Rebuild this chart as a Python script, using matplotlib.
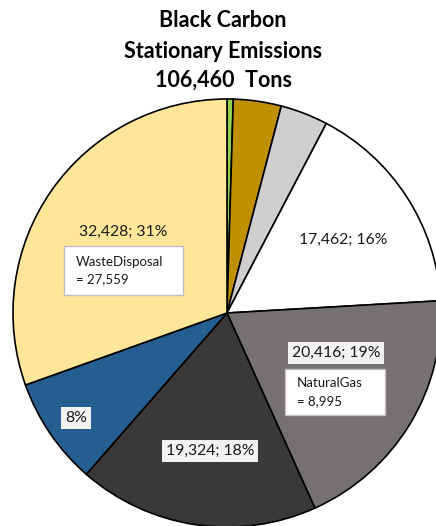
import matplotlib.pyplot as plt

# slices, clockwise from 12 o'clock (tons)
sources = ["Other", "Coal", "Oil", "Wood", "Natural Gas", "Industrial",
           "Residential", "Waste Disposal"]
tons = [500, 3850, 3830, 17462, 20416, 19324, 8650, 32428]
colors = ["#92D050", "#BF9000", "#D0CECE", "#FFFFFF", "#767171",
          "#3A3838", "#255E91", "#FFE699"]
total_tons = "106,460"

# data labels shown on the chart
label_text = ["17,462; 16%", "20,416; 19%", "19,324; 18%", "8%", "32,428; 31%"]
label_pos = [(343, 240), (336, 353), (210, 451), (76, 418), (123, 232)]
label_bg = [None, "#F2F2F2", "#F2F2F2", "#F2F2F2", None]

callouts = ["WasteDisposal\n= 27,559", "NaturalGas\n= 8,995"]
callout_box = [(64, 246, 183, 295), (285, 369, 385, 415)]

title_lines = ["Black Carbon", "Stationary Emissions", f"{total_tons}  Tons"]
title_base = [26.7, 57.7, 86.7]

W, H = 436, 526
fig = plt.figure(figsize=(W / 100, H / 100), dpi=100)
ax = fig.add_axes([0, 0, 1, 1])
font = ["Lato", "DejaVu Sans"]

cx, cy, r = 227, 313, 214
ax.pie(tons, colors=colors, startangle=90, counterclock=False,
       center=(cx, H - cy), radius=r,
       wedgeprops=dict(edgecolor="black", linewidth=1.2))
ax.set_xlim(0, W)
ax.set_ylim(0, H)
ax.set_aspect("equal")
ax.axis("off")

for line, yb in zip(title_lines, title_base):
    fig.text(0.512, 1 - yb / H, line, ha="center", va="baseline",
             fontsize=15.5, fontweight="bold", family=font)

for txt, (x, y), bg in zip(label_text, label_pos, label_bg):
    bbox = None
    if bg:
        bbox = dict(boxstyle="square,pad=0.25", facecolor=bg, edgecolor="none")
    ax.text(x, H - y, txt, ha="center", va="center", fontsize=11.3,
            color="#1a1a1a", family=font, bbox=bbox)

for txt, (x0, y0, x1, y1) in zip(callouts, callout_box):
    ax.add_patch(plt.Rectangle((x0, H - y1), x1 - x0, y1 - y0,
                               facecolor="white", edgecolor="#BFBFBF",
                               linewidth=1, zorder=3))
    ax.text(x0 + 12, H - (y0 + y1) / 2, txt, ha="left", va="center",
            fontsize=9.5, linespacing=1.6, color="#1a1a1a", family=font,
            zorder=4)

fig.savefig("out.png", dpi=100)
